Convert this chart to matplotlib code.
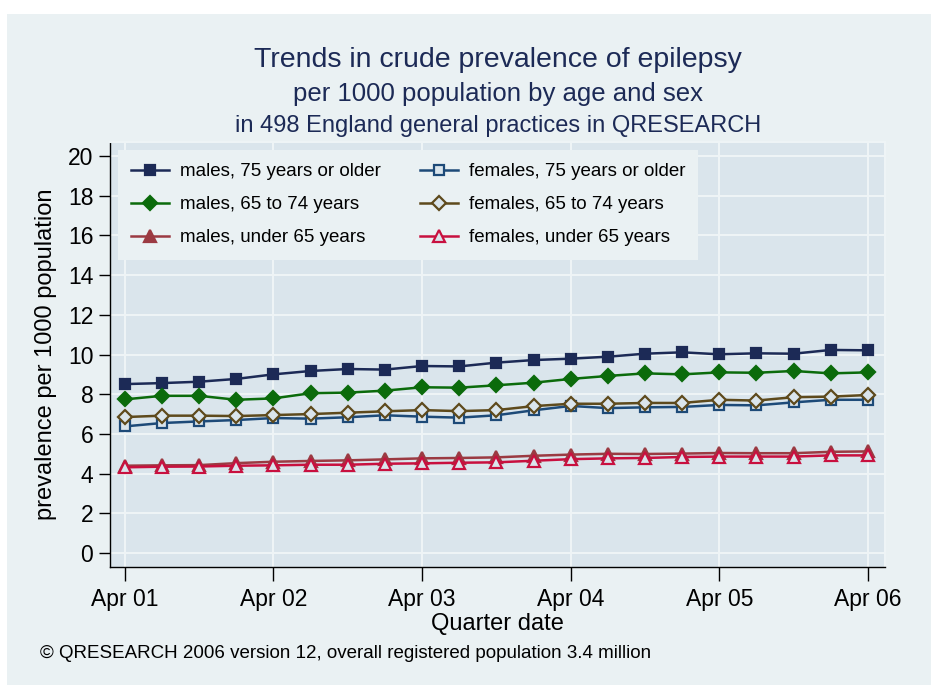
import numpy as np
import matplotlib
matplotlib.use("Agg")
import matplotlib.pyplot as plt
from matplotlib.patches import Rectangle

plt.rcParams["font.family"] = ["Liberation Sans", "DejaVu Sans"]

# quarters from Apr 01 to Apr 06 (21 quarters)
n_quarters = 21
tick_labels = ["Apr 01", "Apr 02", "Apr 03", "Apr 04", "Apr 05", "Apr 06"]

males_75 = [8.51, 8.56, 8.63, 8.77, 9.00, 9.17, 9.27, 9.24, 9.42, 9.40, 9.59,
            9.72, 9.79, 9.89, 10.04, 10.11, 10.01, 10.06, 10.04, 10.23, 10.21]
males_65_74 = [7.74, 7.92, 7.92, 7.72, 7.79, 8.05, 8.08, 8.18, 8.35, 8.33, 8.45,
               8.58, 8.77, 8.92, 9.05, 9.00, 9.10, 9.08, 9.17, 9.05, 9.10]
males_u65 = [4.40, 4.42, 4.43, 4.53, 4.60, 4.64, 4.67, 4.72, 4.77, 4.79, 4.82,
             4.90, 4.96, 5.00, 4.99, 5.01, 5.04, 5.03, 5.03, 5.10, 5.12]
females_75 = [6.38, 6.55, 6.63, 6.70, 6.80, 6.77, 6.84, 6.94, 6.87, 6.82, 6.94,
              7.19, 7.41, 7.30, 7.34, 7.36, 7.46, 7.44, 7.59, 7.72, 7.72]
females_65_74 = [6.85, 6.92, 6.92, 6.90, 6.95, 7.00, 7.07, 7.14, 7.20, 7.15, 7.20,
                 7.40, 7.52, 7.52, 7.56, 7.56, 7.72, 7.68, 7.85, 7.88, 7.96]
females_u65 = [4.32, 4.35, 4.36, 4.40, 4.42, 4.45, 4.45, 4.50, 4.52, 4.55, 4.57,
               4.65, 4.73, 4.77, 4.79, 4.84, 4.86, 4.86, 4.86, 4.92, 4.92]

series = [
    ("males, 75 years or older", males_75, "#1c2a56", "s", True, 7.5),
    ("males, 65 to 74 years", males_65_74, "#0b6b0b", "D", True, 7.5),
    ("males, under 65 years", males_u65, "#9b3a42", "^", True, 8),
    ("females, 75 years or older", females_75, "#1d4a78", "s", False, 7),
    ("females, 65 to 74 years", females_65_74, "#5e4a1c", "D", False, 7),
    ("females, under 65 years", females_u65, "#c8103f", "^", False, 8),
]

outer_bg = "#eaf1f3"
plot_bg = "#dae5ec"
navy = "#1c2a56"

fig = plt.figure(figsize=(9.31, 6.85), dpi=100, facecolor="white")
fig.patches.append(Rectangle((7 / 931, 0), 1, 671 / 685, transform=fig.transFigure,
                             facecolor=outer_bg, edgecolor="none", zorder=-10))

ax = fig.add_axes([110 / 931, 118 / 685, 775 / 931, 425 / 685])
ax.set_facecolor(plot_bg)

x = np.arange(n_quarters)
for label, vals, color, marker, filled, ms in series:
    ax.plot(x, vals, color=color, lw=1.8, marker=marker, markersize=ms,
            markerfacecolor=color if filled else plot_bg,
            markeredgecolor=color, markeredgewidth=1.6, label=label)

ax.set_xlim(-0.4, 20.46)
ax.set_ylim(-0.7, 20.7)
ax.set_xticks(np.arange(0, n_quarters, 4))
ax.set_xticklabels(tick_labels)
ax.set_yticks(np.arange(0, 21, 2))
ax.tick_params(axis="both", labelsize=16.5, direction="out", color="black", width=1)
ax.tick_params(axis="x", length=10, pad=5)
ax.tick_params(axis="y", length=8, pad=4)
ax.grid(True, color="#eef4f6", lw=1.5)
ax.set_axisbelow(True)

for side in ["top", "right"]:
    ax.spines[side].set_color("#eef4f6")
    ax.spines[side].set_linewidth(1.5)
for side in ["left", "bottom"]:
    ax.spines[side].set_color("black")
    ax.spines[side].set_linewidth(1)

ax.set_ylabel("prevalence per 1000 population", fontsize=17)
ax.yaxis.set_label_coords(-0.068, 0.5)
ax.set_xlabel("Quarter date", fontsize=17)
ax.xaxis.set_label_coords(0.5, -0.108)

leg = ax.legend(loc="upper left", bbox_to_anchor=(0.0103, 0.981), borderaxespad=0,
                ncol=2, fontsize=13.5, frameon=True, fancybox=False,
                facecolor=outer_bg, edgecolor="none", framealpha=1,
                handlelength=2.0, handletextpad=0.6, columnspacing=2.1,
                labelspacing=0.85, borderpad=0.7)

fig.text(0.535, 1 - 60 / 685, "Trends in crude prevalence of epilepsy",
         ha="center", va="center", fontsize=20.5, color=navy)
fig.text(0.535, 1 - 94 / 685, "per 1000 population by age and sex",
         ha="center", va="center", fontsize=18.5, color=navy)
fig.text(0.535, 1 - 126 / 685, "in 498 England general practices in QRESEARCH",
         ha="center", va="center", fontsize=17, color=navy)
fig.text(40 / 931, 1 - 653 / 685,
         "\u00a9 QRESEARCH 2006 version 12, overall registered population 3.4 million",
         ha="left", va="center", fontsize=13.5, color="black")

fig.savefig("out.png", dpi=100, facecolor=fig.get_facecolor())
